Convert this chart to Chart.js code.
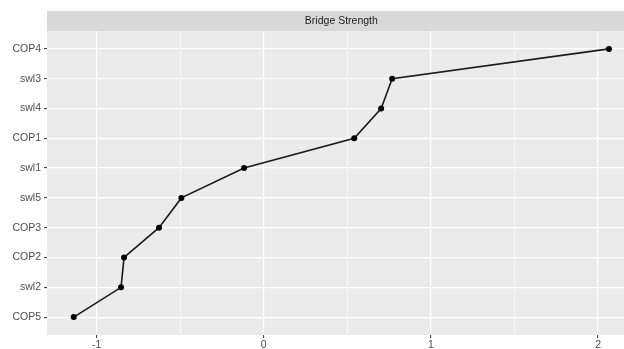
<!DOCTYPE html>
<html>
<head>
<meta charset="utf-8">
<style>
  html, body { margin: 0; padding: 0; background: #ffffff; }
  canvas { display: block; }
</style>
<script src="https://cdn.jsdelivr.net/npm/chart.js@4/dist/chart.umd.min.js"></script>
</head>
<body>
<canvas id="chart" width="624" height="349"></canvas>
<script>
// Nodes, ordered from bottom to top of the panel
const categories = ['COP5', 'swl2', 'COP2', 'COP3', 'swl5', 'swl1', 'COP1', 'swl4', 'swl3', 'COP4'];
// Bridge strength (standardised) for each node
const strength = [-1.137, -0.854, -0.836, -0.627, -0.493, -0.118, 0.541, 0.702, 0.768, 2.065];
// Labelled x ticks and minor gridline positions
const xMajorTicks = [-1, 0, 1, 2];
const xMinorTicks = [-0.5, 0.5, 1.5];
const panelTitle = 'Bridge Strength';

const FONT = '"Liberation Sans", Arial, sans-serif';
const X_MIN = -1.297, X_MAX = 2.155, X_FULL_MAX = 2.225;

const points = categories.map((c, i) => ({ x: strength[i], y: i }));

const panelPlugin = {
  id: 'panel',
  beforeDraw(chart) {
    const { ctx, chartArea: a } = chart;
    ctx.save();
    // panel background
    ctx.fillStyle = '#EBEBEB';
    ctx.fillRect(a.left, a.top, a.right - a.left, a.bottom - a.top);
    // facet strip
    ctx.fillStyle = '#D9D9D9';
    ctx.fillRect(a.left, 11, chart.width - a.left, a.top - 11);
    const xs = chart.scales.x;
    const cx = xs.getPixelForValue((X_MIN + X_FULL_MAX) / 2);
    ctx.fillStyle = '#1A1A1A';
    ctx.font = '10.5px ' + FONT;
    ctx.textAlign = 'center';
    ctx.textBaseline = 'middle';
    ctx.fillText(panelTitle, cx, (11 + a.top) / 2 + 0.5);
    ctx.restore();
  }
};

new Chart(document.getElementById('chart'), {
  type: 'scatter',
  data: {
    datasets: [{
      data: points,
      showLine: true,
      borderColor: '#1a1a1a',
      borderWidth: 1.6,
      backgroundColor: '#000000',
      pointBackgroundColor: '#000000',
      pointBorderColor: '#000000',
      pointRadius: 3,
      pointBorderWidth: 0,
      tension: 0,
      clip: false
    }]
  },
  options: {
    responsive: false,
    devicePixelRatio: 1,
    animation: false,
    layout: { autoPadding: false, padding: { top: 31, left: 0, right: 0, bottom: 0 } },
    plugins: {
      legend: { display: false },
      tooltip: { enabled: false },
      title: { display: false }
    },
    scales: {
      x: {
        type: 'linear',
        min: X_MIN,
        max: X_MAX,
        afterBuildTicks(scale) {
          scale.ticks = xMajorTicks.concat(xMinorTicks).sort((a, b) => a - b).map(v => ({ value: v }));
        },
        afterFit(scale) { scale.height = 14; },
        border: { display: false },
        grid: {
          color: '#FFFFFF',
          lineWidth: ctx => (Number.isInteger(ctx.tick.value) ? 1.2 : 0.6),
          drawTicks: true,
          tickLength: 3,
          tickColor: ctx => (Number.isInteger(ctx.tick.value) ? '#333333' : 'rgba(0,0,0,0)'),
          tickWidth: 1
        },
        ticks: {
          autoSkip: false,
          maxRotation: 0,
          padding: 1,
          color: '#4D4D4D',
          font: { family: FONT, size: 10.5 },
          callback: v => (Number.isInteger(v) ? String(v) : '')
        }
      },
      y: {
        type: 'linear',
        min: -0.6,
        max: 9.6,
        afterBuildTicks(scale) {
          scale.ticks = categories.map((c, i) => ({ value: i }));
        },
        afterFit(scale) { scale.width = 47; },
        border: { display: false },
        grid: {
          color: '#FFFFFF',
          lineWidth: 1.2,
          drawTicks: true,
          tickLength: 3,
          tickColor: '#333333',
          tickWidth: 1
        },
        ticks: {
          autoSkip: false,
          padding: 3,
          color: '#4D4D4D',
          font: { family: FONT, size: 10.5 },
          callback: v => categories[v]
        }
      }
    }
  },
  plugins: [panelPlugin]
});
</script>
</body>
</html>
